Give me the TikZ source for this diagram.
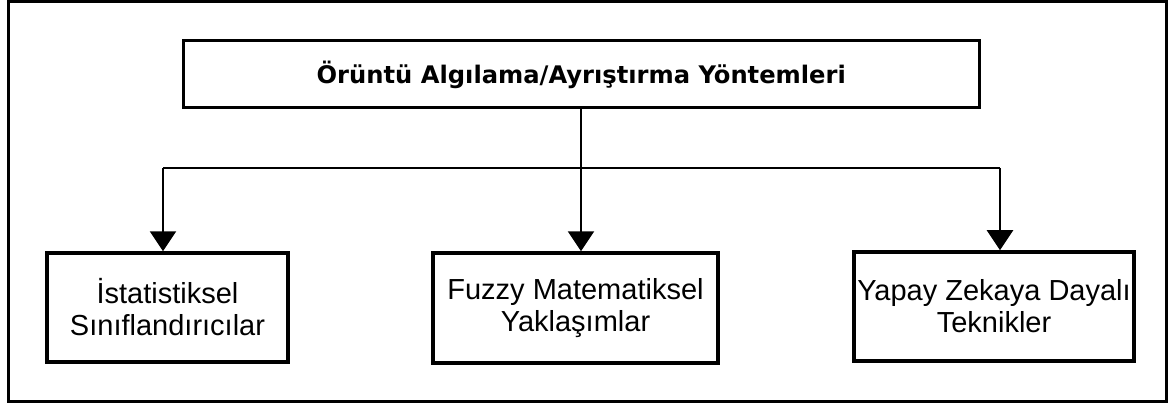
\documentclass[tikz,border=0pt]{standalone}
\usepackage{fontspec}
\setmainfont{Liberation Sans}
\newfontfamily\titlefont{DejaVu Sans}
\usetikzlibrary{arrows.meta}
\begin{document}
\begin{tikzpicture}[x=1pt,y=-1pt,
  frame/.style={draw=black,line width=3pt},
  headbox/.style={draw=black,line width=3pt,inner sep=0pt,
    minimum width=795.5pt,minimum height=67pt,
    font=\titlefont\bfseries\fontsize{24.2}{27}\selectfont},
  leafbox/.style={draw=black,line width=3.5pt,inner sep=0pt,align=center,
    minimum height=109pt,font=\fontsize{29}{32}\selectfont},
  conn/.style={draw=black,line width=2.2pt},
  arr/.style={conn,-{Triangle[width=26pt,length=20pt]}}]
  \useasboundingbox (0,0) rectangle (1171,409);
  % outer frame
  \draw[frame] (8,1.5) rectangle (1166,401);
  % method boxes
  \node[headbox] (top) at (581.25,74.5) {Örüntü Algılama/Ayrıştırma Yöntemleri};
  \node[leafbox,minimum width=241pt] (stat) at (167.5,307.5) {İstatistiksel\\Sınıflandırıcılar};
  \node[leafbox,minimum width=285pt,minimum height=110pt] (fuzzy) at (575.5,308) {Fuzzy Matematiksel\\Yaklaşımlar};
  \node[leafbox,minimum width=280pt] (ai) at (994,306.5) {Yapay Zekaya Dayalı\\Teknikler};
  % distribution bus
  \coordinate (hub) at (581,168);
  \coordinate (jL) at (163,168);
  \coordinate (jR) at (1000,168);
  \draw[conn] (top.south -| hub) -- (hub);
  \draw[conn] (jL) -- (jR);
  \draw[arr] (jL) -- (jL |- stat.north);
  \draw[arr] (hub) -- (hub |- fuzzy.north);
  \draw[arr] (jR) -- (jR |- ai.north);
\end{tikzpicture}
\end{document}
